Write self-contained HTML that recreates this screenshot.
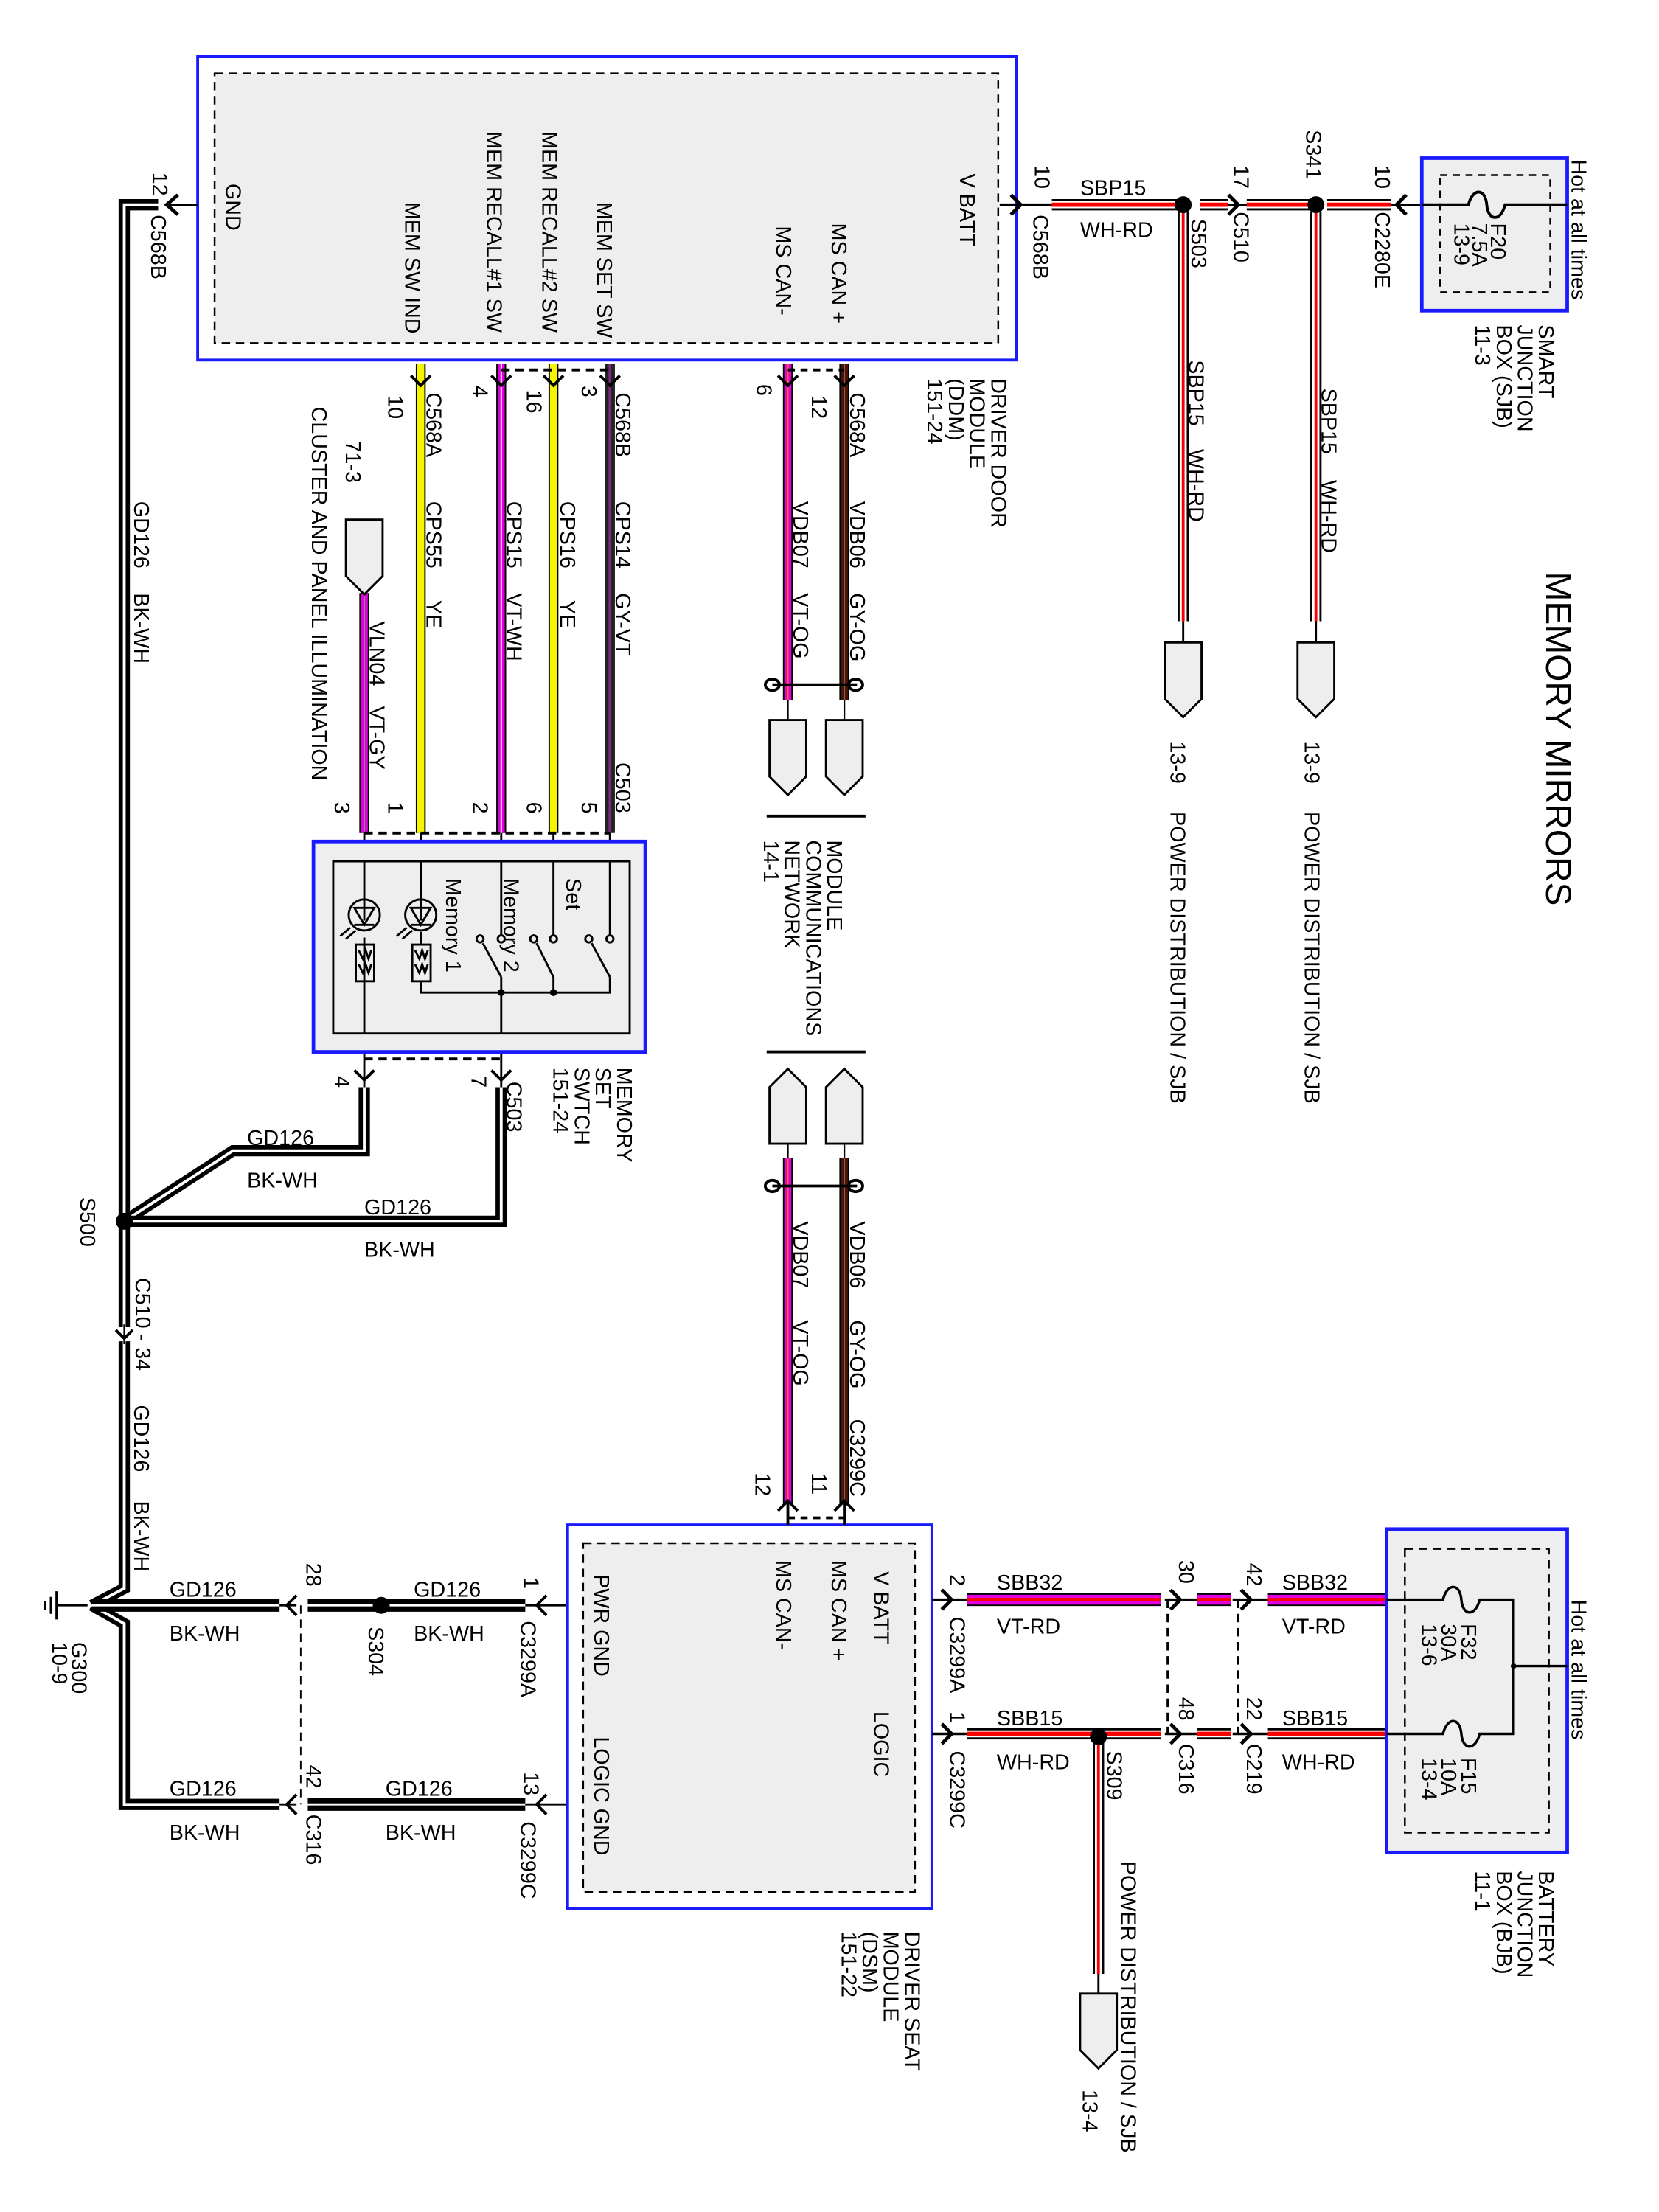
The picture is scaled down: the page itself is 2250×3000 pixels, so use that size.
<!DOCTYPE html>
<html><head><meta charset="utf-8"><style>
html,body{margin:0;padding:0;background:#fff;}
svg{display:block;}
text{font-family:"Liberation Sans",Arial,sans-serif;font-size:15px;fill:#000;}
</style></head><body>
<svg width="2250" height="3000" viewBox="0 0 1175 1566.67" xmlns="http://www.w3.org/2000/svg">
<defs>
<g id="pentD"><path d="M-13,0 H13 V40 L0,53 L-13,40 Z" fill="#eee" stroke="#000" stroke-width="1.5"/></g>
<g id="pentU"><path d="M-13,0 H13 V-40 L0,-53 L-13,-40 Z" fill="#eee" stroke="#000" stroke-width="1.5"/></g>
</defs>

<text transform="translate(1095,405) rotate(90)" style="font-size:25px">MEMORY MIRRORS</text>

<rect x="140" y="40" width="580" height="215" fill="#fff" stroke="#1a1aff" stroke-width="2"/>
<rect x="152" y="52" width="555" height="191" fill="#eee" stroke="#000" stroke-width="1.3" stroke-dasharray="6,4"/>
<g>
<text transform="translate(160,130) rotate(90)">GND</text>
<text transform="translate(287,143) rotate(90)">MEM SW IND</text>
<text transform="translate(345,93) rotate(90)">MEM RECALL#1 SW</text>
<text transform="translate(384,93) rotate(90)">MEM RECALL#2 SW</text>
<text transform="translate(423,143) rotate(90)">MEM SET SW</text>
<text transform="translate(550,160) rotate(90)">MS CAN-</text>
<text transform="translate(589,158) rotate(90)">MS CAN +</text>
<text transform="translate(680,123) rotate(90)">V BATT</text>
</g>
<text transform="translate(702,268) rotate(90)">DRIVER DOOR</text>
<text transform="translate(687,268) rotate(90)">MODULE</text>
<text transform="translate(672,268) rotate(90)">(DDM)</text>
<text transform="translate(657,268) rotate(90)">151-24</text>

<path d="M140,145 H118" stroke="#000" stroke-width="1.5" fill="none"/>
<path d="M126,138 L118,145 L126,152" stroke="#000" stroke-width="2.5" fill="none"/>
<path d="M112,145 H88 V1125 L65,1137" stroke="#000" stroke-width="8" fill="none"/>
<path d="M112,145 H88 V1125 L65,1137" stroke="#fff" stroke-width="2" fill="none"/>
<text transform="translate(108,122) rotate(90)">12</text>
<text transform="translate(107,152) rotate(90)">C568B</text>
<text transform="translate(95,355) rotate(90)">GD126</text>
<text transform="translate(95,420) rotate(90)">BK-WH</text>
<text transform="translate(57,848) rotate(90)">S500</text>
<rect x="80" y="940" width="16" height="10" fill="#fff"/>
<path d="M82,942 L88,948 L94,942" stroke="#000" stroke-width="2" fill="none"/>
<path d="M88,938 V952" stroke="#000" stroke-width="1.2"/>
<text transform="translate(96,905) rotate(90)">C510 - 34</text>
<text transform="translate(95,995) rotate(90)">GD126</text>
<text transform="translate(95,1063) rotate(90)">BK-WH</text>

<path d="M88,865 L165,815 H258 V770" stroke="#000" stroke-width="8" fill="none"/>
<path d="M88,865 L165,815 H258 V770" stroke="#fff" stroke-width="2" fill="none"/>
<path d="M88,865 H355 V770" stroke="#000" stroke-width="8" fill="none"/>
<path d="M88,865 H355 V770" stroke="#fff" stroke-width="2" fill="none"/>
<circle cx="88" cy="865" r="6" fill="#000"/>
<text x="175" y="811">GD126</text>
<text x="175" y="841">BK-WH</text>
<text x="258" y="860">GD126</text>
<text x="258" y="890">BK-WH</text>

<path d="M62,1137 H40" stroke="#000" stroke-width="1.5"/>
<path d="M40,1127 V1147 M36,1131 V1143 M32,1134 V1140" stroke="#000" stroke-width="1.5"/>
<text transform="translate(51,1163) rotate(90)">G300</text>
<text transform="translate(37,1163) rotate(90)">10-9</text>
<path d="M65,1137 L88,1150 V1278 H198" stroke="#000" stroke-width="8" fill="none"/>
<path d="M65,1137 L88,1150 V1278 H198" stroke="#fff" stroke-width="2" fill="none"/>
<path d="M65,1137 H198" stroke="#000" stroke-width="9" fill="none"/>
<path d="M65,1137 H198" stroke="#fff" stroke-width="1.5" fill="none"/>
<path d="M198,1137 H210 M198,1278 H210" stroke="#000" stroke-width="1.5"/>
<path d="M210,1130 L203,1137 L210,1144 M210,1271 L203,1278 L210,1285" stroke="#000" stroke-width="2" fill="none"/>
<path d="M213,1137 V1278" stroke="#000" stroke-width="1" stroke-dasharray="6,4"/>
<path d="M218,1137 H372" stroke="#000" stroke-width="9"/>
<path d="M218,1137 H372" stroke="#fff" stroke-width="1.5"/>
<path d="M218,1278 H372" stroke="#000" stroke-width="9"/>
<path d="M218,1278 H372" stroke="#fff" stroke-width="1.5"/>
<circle cx="270" cy="1137" r="6" fill="#000"/>
<path d="M372,1137 H402 M372,1278 H402" stroke="#000" stroke-width="1.5"/>
<path d="M387,1130 L380,1137 L387,1144 M387,1271 L380,1278 L387,1285" stroke="#000" stroke-width="2" fill="none"/>
<text x="120" y="1131">GD126</text><text x="120" y="1162">BK-WH</text>
<text x="293" y="1131">GD126</text><text x="293" y="1162">BK-WH</text>
<text x="120" y="1272">GD126</text><text x="120" y="1303">BK-WH</text>
<text x="273" y="1272">GD126</text><text x="273" y="1303">BK-WH</text>
<text transform="translate(217,1107) rotate(90)">28</text>
<text transform="translate(261,1152) rotate(90)">S304</text>
<text transform="translate(217,1250) rotate(90)">42</text>
<text transform="translate(217,1285) rotate(90)">C316</text>
<text transform="translate(371,1117) rotate(90)">1</text>
<text transform="translate(369,1148) rotate(90)">C3299A</text>
<text transform="translate(371,1255) rotate(90)">13</text>
<text transform="translate(369,1290) rotate(90)">C3299C</text>

<rect x="402" y="1080" width="258" height="272" fill="#fff" stroke="#1a1aff" stroke-width="2"/>
<rect x="413" y="1093" width="235" height="247" fill="#eee" stroke="#000" stroke-width="1.3" stroke-dasharray="6,4"/>
<text transform="translate(421,1115) rotate(90)">PWR GND</text>
<text transform="translate(421,1230) rotate(90)">LOGIC GND</text>
<text transform="translate(550,1105) rotate(90)">MS CAN-</text>
<text transform="translate(589,1105) rotate(90)">MS CAN +</text>
<text transform="translate(619,1113) rotate(90)">V BATT</text>
<text transform="translate(619,1212) rotate(90)">LOGIC</text>
<text transform="translate(641,1368) rotate(90)">DRIVER SEAT</text>
<text transform="translate(626,1368) rotate(90)">MODULE</text>
<text transform="translate(611,1368) rotate(90)">(DSM)</text>
<text transform="translate(596,1368) rotate(90)">151-22</text>

<g fill="none">
<path d="M298,258 V590" stroke="#000" stroke-width="7"/><path d="M298,258 V590" stroke="#f5f500" stroke-width="5"/>
<path d="M355,258 V590" stroke="#000" stroke-width="7"/><path d="M355,258 V590" stroke="#e000e0" stroke-width="5"/><path d="M355,258 V590" stroke="#fff" stroke-width="1"/>
<path d="M392,258 V590" stroke="#000" stroke-width="7"/><path d="M392,258 V590" stroke="#f5f500" stroke-width="5"/>
<path d="M432,258 V590" stroke="#222" stroke-width="7"/><path d="M432,258 V590" stroke="#7a2a7a" stroke-width="2"/>
<path d="M258,420 V590" stroke="#000" stroke-width="7"/><path d="M258,420 V590" stroke="#e000e0" stroke-width="5"/><path d="M258,420 V590" stroke="#888" stroke-width="1"/>
</g>
<g stroke="#000" stroke-width="2" fill="none">
<path d="M291,266 L298,273 L305,266 M348,266 L355,273 L362,266 M385,266 L392,273 L399,266 M425,266 L432,273 L439,266"/>
<path d="M251,758 L258,765 L265,758 M348,758 L355,765 L362,758"/>
</g>
<path d="M355,262 H432 M258,590 H432 M258,750 H355" stroke="#000" stroke-width="2" stroke-dasharray="6,4"/>
<path d="M298,590 V610 M355,590 V610 M392,590 V610 M432,590 V610 M258,590 V610 M258,732 V770 M355,732 V770" stroke="#000" stroke-width="1.5"/>
<text transform="translate(275,280) rotate(90)">10</text>
<text transform="translate(302,278) rotate(90)">C568A</text>
<text transform="translate(302,355) rotate(90)">CPS55</text>
<text transform="translate(302,425) rotate(90)">YE</text>
<text transform="translate(335,273) rotate(90)">4</text>
<text transform="translate(359,355) rotate(90)">CPS15</text>
<text transform="translate(359,420) rotate(90)">VT-WH</text>
<text transform="translate(373,276) rotate(90)">16</text>
<text transform="translate(397,355) rotate(90)">CPS16</text>
<text transform="translate(397,425) rotate(90)">YE</text>
<text transform="translate(412,273) rotate(90)">3</text>
<text transform="translate(436,278) rotate(90)">C568B</text>
<text transform="translate(436,355) rotate(90)">CPS14</text>
<text transform="translate(436,420) rotate(90)">GY-VT</text>
<text transform="translate(436,540) rotate(90)">C503</text>
<text transform="translate(237,568) rotate(90)">3</text>
<text transform="translate(275,568) rotate(90)">1</text>
<text transform="translate(335,568) rotate(90)">2</text>
<text transform="translate(373,568) rotate(90)">6</text>
<text transform="translate(412,568) rotate(90)">5</text>
<text transform="translate(237,762) rotate(90)">4</text>
<text transform="translate(334,762) rotate(90)">7</text>
<text transform="translate(359,766) rotate(90)">C503</text>
<use href="#pentD" x="258" y="368"/>
<text transform="translate(262,440) rotate(90)">VLN04</text>
<text transform="translate(262,500) rotate(90)">VT-GY</text>
<text transform="translate(221,288) rotate(90)">CLUSTER AND PANEL ILLUMINATION</text>
<text transform="translate(245,312) rotate(90)">71-3</text>

<rect x="222" y="596" width="235" height="149" fill="#eee" stroke="#1a1aff" stroke-width="2.5"/>
<rect x="236" y="610" width="210" height="122" fill="none" stroke="#000" stroke-width="1.5"/>
<g stroke="#000" stroke-width="1.5" fill="none">
<path d="M258,610 V652 M298,610 V652 M258,664 V732"/>
<circle cx="258" cy="648" r="11"/><circle cx="298" cy="648" r="11"/>
<path d="M251,643 H265 L258,655 Z M251,655 H265 M291,643 H305 L298,655 Z M291,655 H305"/>
<path d="M248,657 L241,663 M252,659 L245,665 M288,657 L281,663 M292,659 L285,665"/>
<rect x="252" y="669" width="13" height="26"/><rect x="292" y="669" width="13" height="26"/>
<path d="M254,673 l3,6 l2,-6 l2,6 l2,-6 M254,683 l3,6 l2,-6 l2,6 l2,-6 M294,673 l3,6 l2,-6 l2,6 l2,-6 M294,683 l3,6 l2,-6 l2,6 l2,-6"/>
<path d="M298,660 V669 M298,695 V703 H432 V692 M392,610 V662 M432,610 V662 M355,610 V662 M355,692 V732 M392,692 V703"/>
<circle cx="355" cy="665" r="2.5"/><circle cx="392" cy="665" r="2.5"/><circle cx="432" cy="665" r="2.5"/>
<circle cx="340" cy="665" r="2.5"/><circle cx="378" cy="665" r="2.5"/><circle cx="417" cy="665" r="2.5"/>
<path d="M342,668 L355,692 M380,668 L392,692 M419,668 L432,692"/>
</g>
<circle cx="355" cy="703" r="2.5" fill="#000"/><circle cx="392" cy="703" r="2.5" fill="#000"/>
<text transform="translate(401,622) rotate(90)">Set</text>
<text transform="translate(357,622) rotate(90)">Memory 2</text>
<text transform="translate(316,622) rotate(90)">Memory 1</text>
<text transform="translate(437,756) rotate(90)">MEMORY</text>
<text transform="translate(422,756) rotate(90)">SET</text>
<text transform="translate(407,756) rotate(90)">SWTCH</text>
<text transform="translate(392,756) rotate(90)">151-24</text>

<g fill="none">
<path d="M558,258 V496" stroke="#000" stroke-width="7"/><path d="M558,258 V496" stroke="#e000e0" stroke-width="5"/><path d="M558,258 V496" stroke="#ff6a00" stroke-width="1"/>
<path d="M598,258 V496" stroke="#000" stroke-width="7"/><path d="M598,258 V496" stroke="#3a1a10" stroke-width="5"/><path d="M598,258 V496" stroke="#d04020" stroke-width="1"/>
<path d="M558,820 V1065" stroke="#000" stroke-width="7"/><path d="M558,820 V1065" stroke="#e000e0" stroke-width="5"/><path d="M558,820 V1065" stroke="#ff6a00" stroke-width="1"/>
<path d="M598,820 V1065" stroke="#000" stroke-width="7"/><path d="M598,820 V1065" stroke="#3a1a10" stroke-width="5"/><path d="M598,820 V1065" stroke="#d04020" stroke-width="1"/>
</g>
<g stroke="#000" stroke-width="2" fill="none">
<path d="M551,266 L558,273 L565,266 M591,266 L598,273 L605,266"/>
<path d="M551,1070 L558,1063 L565,1070 M591,1070 L598,1063 L605,1070 M558,1063 V1080 M598,1063 V1080"/>
<path d="M558,262 H598 M558,1075 H598" stroke-dasharray="5,4"/>
<path d="M547,485 H607 M547,840 H607" stroke-width="2"/>
<ellipse cx="547" cy="485" rx="5" ry="4"/><ellipse cx="606" cy="485" rx="5" ry="4"/>
<ellipse cx="547" cy="840" rx="5" ry="4"/><ellipse cx="606" cy="840" rx="5" ry="4"/>
<path d="M558,496 V510 M598,496 V510 M558,808 V820 M598,808 V820" stroke-width="1.2"/>
<path d="M543,578 H613 M543,745 H613" stroke-width="2"/>
</g>
<use href="#pentD" x="558" y="510"/><use href="#pentD" x="598" y="510"/>
<use href="#pentU" x="558" y="810"/><use href="#pentU" x="598" y="810"/>
<text transform="translate(536,272) rotate(90)">6</text>
<text transform="translate(575,280) rotate(90)">12</text>
<text transform="translate(602,278) rotate(90)">C568A</text>
<text transform="translate(602,355) rotate(90)">VDB06</text>
<text transform="translate(602,420) rotate(90)">GY-OG</text>
<text transform="translate(562,355) rotate(90)">VDB07</text>
<text transform="translate(562,420) rotate(90)">VT-OG</text>
<text transform="translate(586,595) rotate(90)">MODULE</text>
<text transform="translate(571,595) rotate(90)">COMMUNICATIONS</text>
<text transform="translate(556,595) rotate(90)">NETWORK</text>
<text transform="translate(541,595) rotate(90)">14-1</text>
<text transform="translate(602,865) rotate(90)">VDB06</text>
<text transform="translate(602,935) rotate(90)">GY-OG</text>
<text transform="translate(602,1005) rotate(90)">C3299C</text>
<text transform="translate(575,1043) rotate(90)">11</text>
<text transform="translate(562,865) rotate(90)">VDB07</text>
<text transform="translate(562,935) rotate(90)">VT-OG</text>
<text transform="translate(535,1043) rotate(90)">12</text>

<path d="M708,145 H745" stroke="#000" stroke-width="1.8"/>
<path d="M716,138 L723,145 L716,152 M870,138 L877,145 L870,152 M996,138 L989,145 L996,152" stroke="#000" stroke-width="2.5" fill="none"/>
<g fill="none">
<path d="M745,145 H838 M850,145 H870 M883,145 H932 M940,145 H985" stroke="#000" stroke-width="8"/>
<path d="M745,145 H838 M850,145 H870 M883,145 H932 M940,145 H985" stroke="#fff" stroke-width="5"/>
<path d="M745,145 H838 M850,145 H870 M883,145 H932 M940,145 H985" stroke="#f00" stroke-width="3"/>
<path d="M838,150 V440 M932,150 V440" stroke="#000" stroke-width="8"/>
<path d="M838,150 V440 M932,150 V440" stroke="#fff" stroke-width="5"/>
<path d="M838,150 V440 M932,150 V440" stroke="#f00" stroke-width="2"/>
</g>
<path d="M870,145 H883 M985,145 H1007 M838,440 V455 M932,440 V455" stroke="#000" stroke-width="1.5"/>
<circle cx="838" cy="145" r="6" fill="#000"/><circle cx="932" cy="145" r="6" fill="#000"/>
<use href="#pentD" x="838" y="455"/><use href="#pentD" x="932" y="455"/>
<text transform="translate(733,117) rotate(90)">10</text>
<text transform="translate(732,152) rotate(90)">C568B</text>
<text x="765" y="138">SBP15</text>
<text x="765" y="168">WH-RD</text>
<text transform="translate(844,155) rotate(90)">S503</text>
<text transform="translate(874,117) rotate(90)">17</text>
<text transform="translate(874,150) rotate(90)">C510</text>
<text transform="translate(925,92) rotate(90)">S341</text>
<text transform="translate(974,117) rotate(90)">10</text>
<text transform="translate(974,150) rotate(90)">C2280E</text>
<text transform="translate(842,255) rotate(90)">SBP15</text>
<text transform="translate(842,318) rotate(90)">WH-RD</text>
<text transform="translate(829,525) rotate(90)">13-9</text>
<text transform="translate(829,575) rotate(90)">POWER DISTRIBUTION / SJB</text>
<text transform="translate(936,275) rotate(90)">SBP15</text>
<text transform="translate(936,340) rotate(90)">WH-RD</text>
<text transform="translate(924,525) rotate(90)">13-9</text>
<text transform="translate(924,575) rotate(90)">POWER DISTRIBUTION / SJB</text>

<rect x="1007" y="112" width="103" height="108" fill="#eee" stroke="#1a1aff" stroke-width="2.5"/>
<rect x="1020" y="124" width="78" height="83" fill="none" stroke="#000" stroke-width="1.3" stroke-dasharray="5,4"/>
<path d="M1007,145 H1040 c3,-12 12,-12 13,0 s10,12 13,0 H1110" stroke="#000" stroke-width="2" fill="none"/>
<text transform="translate(1056,158) rotate(90)">F20</text>
<text transform="translate(1043,158) rotate(90)">7.5A</text>
<text transform="translate(1030,158) rotate(90)">13-9</text>
<text transform="translate(1113,113) rotate(90)">Hot at all times</text>
<text transform="translate(1090,230) rotate(90)">SMART</text>
<text transform="translate(1075,230) rotate(90)">JUNCTION</text>
<text transform="translate(1060,230) rotate(90)">BOX (SJB)</text>
<text transform="translate(1045,230) rotate(90)">11-3</text>

<path d="M660,1133 H685 M660,1228 H685 M825,1133 H848 M873,1133 H898 M825,1228 H848 M873,1228 H898" stroke="#000" stroke-width="1.8"/>
<path d="M667,1126 L674,1133 L667,1140 M667,1221 L674,1228 L667,1235 M829,1126 L836,1133 L829,1140 M829,1221 L836,1228 L829,1235 M879,1126 L886,1133 L879,1140 M879,1221 L886,1228 L879,1235" stroke="#000" stroke-width="2.5" fill="none"/>
<g fill="none">
<path d="M685,1133 H822 M848,1133 H872 M898,1133 H982" stroke="#000" stroke-width="9"/>
<path d="M685,1133 H822 M848,1133 H872 M898,1133 H982" stroke="#e000e0" stroke-width="7"/>
<path d="M685,1133 H822 M848,1133 H872 M898,1133 H982" stroke="#f00" stroke-width="2.5"/>
<path d="M685,1228 H822 M848,1228 H872 M898,1228 H982" stroke="#000" stroke-width="8"/>
<path d="M685,1228 H822 M848,1228 H872 M898,1228 H982" stroke="#fff" stroke-width="5"/>
<path d="M685,1228 H822 M848,1228 H872 M898,1228 H982" stroke="#f00" stroke-width="3"/>
<path d="M778,1233 V1398" stroke="#000" stroke-width="8"/>
<path d="M778,1233 V1398" stroke="#fff" stroke-width="5"/>
<path d="M778,1233 V1398" stroke="#f00" stroke-width="2"/>
</g>
<path d="M827,1133 V1228 M877,1133 V1228" stroke="#000" stroke-width="1.5" stroke-dasharray="6,4"/>
<path d="M778,1398 V1412" stroke="#000" stroke-width="1.5"/>
<circle cx="778" cy="1230" r="6" fill="#000"/>
<use href="#pentD" x="778" y="1412"/>
<text transform="translate(673,1115) rotate(90)">2</text>
<text transform="translate(673,1145) rotate(90)">C3299A</text>
<text x="706" y="1126">SBB32</text><text x="706" y="1157">VT-RD</text>
<text transform="translate(835,1105) rotate(90)">30</text>
<text transform="translate(883,1107) rotate(90)">42</text>
<text x="908" y="1126">SBB32</text><text x="908" y="1157">VT-RD</text>
<text transform="translate(673,1212) rotate(90)">1</text>
<text transform="translate(673,1240) rotate(90)">C3299C</text>
<text x="706" y="1222">SBB15</text><text x="706" y="1253">WH-RD</text>
<text transform="translate(784,1240) rotate(90)">S309</text>
<text transform="translate(835,1202) rotate(90)">48</text>
<text transform="translate(835,1235) rotate(90)">C316</text>
<text transform="translate(883,1202) rotate(90)">22</text>
<text transform="translate(883,1235) rotate(90)">C219</text>
<text x="908" y="1222">SBB15</text><text x="908" y="1253">WH-RD</text>
<text transform="translate(767,1480) rotate(90)">13-4</text>
<text transform="translate(794,1318) rotate(90)">POWER DISTRIBUTION / SJB</text>

<rect x="982" y="1083" width="128" height="229" fill="#eee" stroke="#1a1aff" stroke-width="2.5"/>
<rect x="995" y="1097" width="102" height="201" fill="none" stroke="#000" stroke-width="1.3" stroke-dasharray="6,4"/>
<path d="M982,1133 H1022 c3,-12 12,-12 13,0 s10,12 13,0 H1072 V1228 H1048 c-3,12 -12,12 -13,0 s-10,-12 -13,0 H982 M1072,1180 H1110" stroke="#000" stroke-width="1.8" fill="none"/>
<circle cx="1072" cy="1180" r="2" fill="#000"/>
<text transform="translate(1035,1150) rotate(90)">F32</text>
<text transform="translate(1021,1150) rotate(90)">30A</text>
<text transform="translate(1007,1150) rotate(90)">13-6</text>
<text transform="translate(1035,1245) rotate(90)">F15</text>
<text transform="translate(1021,1245) rotate(90)">10A</text>
<text transform="translate(1007,1245) rotate(90)">13-4</text>
<text transform="translate(1113,1133) rotate(90)">Hot at all times</text>
<text transform="translate(1090,1325) rotate(90)">BATTERY</text>
<text transform="translate(1075,1325) rotate(90)">JUNCTION</text>
<text transform="translate(1060,1325) rotate(90)">BOX (BJB)</text>
<text transform="translate(1045,1325) rotate(90)">11-1</text>
</svg>
</body></html>
